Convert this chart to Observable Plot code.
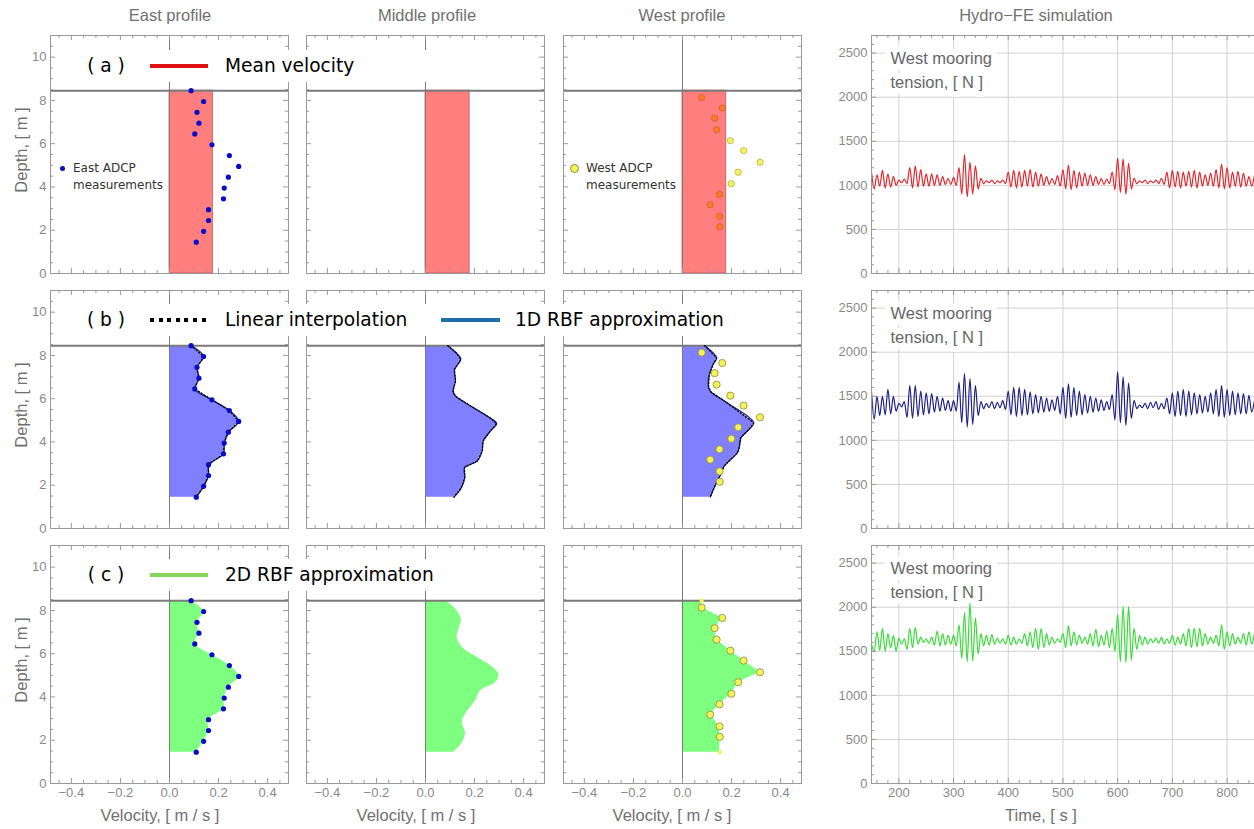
<!DOCTYPE html>
<html><head><meta charset="utf-8">
<script src="https://cdn.jsdelivr.net/npm/d3@7"></script>
<script src="https://cdn.jsdelivr.net/npm/@observablehq/plot@0.6"></script>
<style>
body{margin:0;background:#fff;}
#root{position:relative;width:1254px;height:829px;overflow:hidden;background:#fff;}
svg{max-width:none !important;}
</style></head><body><div id="root"></div>
<script>
// ---------------- DATA ----------------
const surfaceDepth = 8.45;
const seabedDepth = 0;
const meanVel = [0.177, 0.180, 0.178];            // east, middle, west

const eastDepth = [8.45, 7.95, 7.45, 6.95, 6.45, 5.95, 5.45, 4.95, 4.45, 3.95, 3.45, 2.95, 2.45, 1.95, 1.45];
const eastVel   = [0.088, 0.139, 0.112, 0.120, 0.103, 0.173, 0.244, 0.282, 0.240, 0.223, 0.220, 0.159, 0.159, 0.139, 0.109];

const westDepth = [8.13, 7.65, 7.18, 6.65, 6.14, 5.68, 5.14, 4.68, 4.15, 3.66, 3.18, 2.64, 2.16];
const westVel   = [0.078, 0.162, 0.131, 0.139, 0.195, 0.249, 0.316, 0.227, 0.199, 0.151, 0.113, 0.151, 0.152];
const westEndDepth = [8.45, 1.45];
const westEndVel   = [0.078, 0.152];

const midLinDepth = [8.45, 8.12, 7.82, 7.35, 6.82, 6.35, 6.12, 5.66, 5.12, 4.85, 4.51, 4.05, 3.59, 3.12, 2.82, 2.35, 1.89, 1.45];
const midLinVel   = [0.091, 0.125, 0.144, 0.118, 0.122, 0.112, 0.122, 0.184, 0.262, 0.290, 0.265, 0.235, 0.231, 0.211, 0.159, 0.160, 0.146, 0.116];

const westLinDepth = [8.45, 7.89, 7.59, 7.12, 6.54, 6.31, 5.82, 4.89, 4.51, 4.20, 3.74, 3.51, 2.89, 2.51, 1.89, 1.45];
const westLinVel   = [0.091, 0.139, 0.125, 0.109, 0.106, 0.116, 0.180, 0.290, 0.265, 0.238, 0.231, 0.224, 0.170, 0.156, 0.129, 0.113];

const midRbfDepth = [8.45, 8.15, 7.60, 7.14, 6.75, 6.29, 5.83, 5.44, 5.05, 4.67, 4.28, 3.82, 3.20, 2.81, 2.35, 1.88, 1.45];
const midRbfVel   = [0.078, 0.116, 0.146, 0.136, 0.129, 0.150, 0.211, 0.265, 0.299, 0.286, 0.224, 0.204, 0.163, 0.150, 0.163, 0.150, 0.116];

const velTicks = [-0.4, -0.2, 0, 0.2, 0.4];
const depthTicks = [0, 2, 4, 6, 8, 10];
const timeTicks = [200, 300, 400, 500, 600, 700, 800];
const tensionTicks = [0, 500, 1000, 1500, 2000, 2500];

const colTitles = ["East profile", "Middle profile", "West profile", "Hydro\u2212FE simulation"];

// Tension time series: alternating peaks / troughs
const tensionTime = [150,155,160,165,170,175,180,185,190,195,
 200,205,210,215,220,225,230,235,240,245,
 250,255,260,265,270,275,280,285,290,295,
 300,305,310,315,320,325,330,335,340,345,
 350,355,360,365,370,375,380,385,390,395,
 400,405,410,415,420,425,430,435,440,445,
 450,455,460,465,470,475,480,485,490,495,
 500,505,510,515,520,525,530,535,540,545,
 550,555,560,565,570,575,580,585,590,595,
 600,605,610,615,620,625,630,635,640,645,
 650,655,660,665,670,675,680,685,690,695,
 700,705,710,715,720,725,730,735,740,745,
 750,755,760,765,770,775,780,785,790,795,
 800,805,810,815,820,825,830,835,840,845,
 850];
const tensionRed = [1150,960,1120,990,1170,970,1130,980,1100,1000,
 1060,1030,1070,1020,1200,970,1220,980,1180,990,
 1130,990,1130,1000,1120,1000,1100,1010,1080,1010,
 1090,1000,1200,900,1350,870,1260,900,1220,960,
 1080,1020,1050,1030,1060,1020,1050,1030,1060,1020,
 1150,980,1170,970,1160,980,1170,990,1180,980,
 1150,990,1130,1000,1100,1010,1080,1010,1110,990,
 1180,960,1230,950,1170,970,1150,990,1140,1000,
 1120,1000,1100,1010,1080,1010,1070,1020,1150,950,
 1310,920,1300,900,1250,960,1080,1020,1050,1030,
 1060,1020,1050,1030,1060,1020,1080,1010,1150,970,
 1170,980,1160,970,1150,990,1160,980,1170,970,
 1150,990,1120,1000,1140,990,1180,970,1240,960,
 1200,970,1150,990,1160,980,1140,990,1100,990,
 1110];
const tensionBlue = [1550,1240,1500,1280,1500,1290,1580,1300,1500,1330,
 1420,1380,1440,1260,1620,1250,1620,1270,1560,1290,
 1540,1300,1530,1320,1500,1330,1480,1340,1450,1330,
 1450,1330,1660,1200,1760,1150,1700,1180,1620,1280,
 1440,1360,1420,1370,1440,1360,1430,1370,1450,1350,
 1560,1290,1600,1270,1600,1280,1580,1290,1550,1300,
 1520,1310,1500,1320,1480,1330,1460,1340,1500,1300,
 1600,1250,1640,1260,1600,1280,1560,1290,1520,1310,
 1500,1320,1480,1330,1460,1340,1440,1350,1520,1230,
 1780,1200,1720,1170,1650,1250,1450,1360,1400,1370,
 1420,1360,1430,1370,1440,1350,1420,1360,1480,1300,
 1540,1270,1560,1280,1580,1270,1560,1290,1540,1300,
 1520,1310,1500,1320,1540,1300,1580,1270,1620,1260,
 1580,1280,1560,1290,1540,1300,1530,1300,1510,1320,
 1450];
const tensionGreen = [1580,1500,1720,1510,1760,1500,1700,1540,1680,1500,
 1650,1580,1640,1520,1760,1540,1770,1580,1660,1600,
 1640,1590,1660,1570,1730,1560,1700,1570,1680,1580,
 1680,1560,1800,1420,1940,1380,2050,1390,1880,1470,
 1700,1560,1680,1570,1690,1580,1650,1590,1640,1580,
 1680,1570,1660,1580,1640,1590,1700,1560,1720,1540,
 1760,1520,1760,1540,1700,1570,1660,1590,1640,1600,
 1700,1540,1790,1560,1720,1570,1680,1590,1660,1580,
 1700,1560,1750,1550,1680,1570,1730,1540,1760,1500,
 1920,1380,2010,1370,2010,1400,1760,1520,1680,1570,
 1660,1580,1640,1600,1650,1590,1660,1580,1640,1590,
 1680,1570,1660,1580,1700,1560,1760,1540,1760,1550,
 1760,1560,1700,1580,1660,1590,1680,1560,1800,1520,
 1720,1560,1700,1580,1660,1590,1700,1570,1720,1580,
 1700];

// ---------------- LAYOUT ----------------
const FONT = "'Liberation Sans', Arial, sans-serif";
const LFONT = "'DejaVu Sans', Verdana, sans-serif";
const root = document.getElementById("root");
const PW = 238, PH = 238;
const colLeft = [50, 306, 563];
const rowTop = [35, 290, 545];
const C4L = 871, PW4 = 400, PX_PER_S = 0.547;
const TICK = "#9a9a9a", LABEL = "#8a8a8a", TITLE = "#707070";

function place(el, left, top) {
  el.style.position = "absolute"; el.style.left = left + "px"; el.style.top = top + "px";
  root.appendChild(el); return el;
}
function label(text, x, y, {size = 16.5, color = TITLE, anchor = "middle", rotate = false, font = FONT} = {}) {
  const d = document.createElement("div");
  d.textContent = text;
  Object.assign(d.style, {position: "absolute", left: x + "px", top: y + "px", fontSize: size + "px", color,
    fontFamily: font, whiteSpace: "nowrap", lineHeight: "1",
    transform: `translate(${anchor === "middle" ? "-50%" : "0"},-50%)` + (rotate ? " rotate(-90deg)" : "")});
  root.appendChild(d); return d;
}
function box(x, y, w, h, css) {
  const d = document.createElement("div");
  Object.assign(d.style, {position: "absolute", left: x + "px", top: y + "px", width: w + "px", height: h + "px"}, css || {});
  root.appendChild(d); return d;
}

function frameTicks(pw, ph, xMaj, xMin, yMaj, yMin) {
  const out = [];
  for (const [vals, len] of [[yMaj, 5], [yMin, 3]]) {
    out.push(Plot.tickY(vals, {y: d => d, insetRight: pw - len, stroke: TICK}));
    out.push(Plot.tickY(vals, {y: d => d, insetLeft: pw - len, stroke: TICK}));
  }
  for (const [vals, len] of [[xMaj, 5], [xMin, 3]]) {
    out.push(Plot.tickX(vals, {x: d => d, insetTop: ph - len, stroke: TICK}));
    out.push(Plot.tickX(vals, {x: d => d, insetBottom: ph - len, stroke: TICK}));
  }
  return out;
}

const velMinor = d3.range(-9, 10).filter(k => k % 4 !== 0).map(k => k * 0.05);
const depthMinor = d3.range(0.5, 11, 0.5).filter(v => v % 2 !== 0);
const timeMinor = d3.range(160, 881, 20).filter(v => v % 100 !== 0);
const tensionMinor = d3.range(100, 2700, 100).filter(v => v % 500 !== 0);

function profilePanel(col, row, under, over) {
  const showY = col === 0, showX = row === 2;
  const ml = 40, mr = 10, mt = 10, mb = 30;
  const marks = [
    ...under,
    Plot.ruleX([0], {stroke: "#7a7a7a", strokeWidth: 1}),
    Plot.ruleY([surfaceDepth], {stroke: "#7a7a7a", strokeWidth: 2}),
    ...over,
    ...frameTicks(PW, PH, velTicks, velMinor, depthTicks, depthMinor),
    Plot.frame({stroke: "#9a9a9a"})
  ];
  if (showY) marks.push(Plot.axisY({ticks: depthTicks, tickSize: 0, tickPadding: 4, label: null, color: LABEL, fontSize: 13}));
  if (showX) marks.push(Plot.axisX({ticks: velTicks, tickSize: 0, tickPadding: 4, label: null, color: LABEL, fontSize: 13, tickFormat: d3.format(".1f")}));
  const svg = Plot.plot({
    width: PW + ml + mr, height: PH + mt + mb,
    marginLeft: ml, marginRight: mr, marginTop: mt, marginBottom: mb,
    x: {domain: [-0.485, 0.485], axis: showX ? undefined : null},
    y: {domain: [0, 11], axis: showY ? undefined : null},
    style: {background: "transparent", overflow: "visible", fontFamily: FONT, fontSize: "13px"},
    marks
  });
  place(svg, colLeft[col] - ml, rowTop[row] - mt);
}

const pts = (ds, vs) => ds.map((d, i) => ({d, v: vs[i]}));
const eastPts = pts(eastDepth, eastVel);
const westPts = pts(westDepth, westVel);
const westEnds = pts(westEndDepth, westEndVel);
const midLin = pts(midLinDepth, midLinVel);
const westLin = pts(westLinDepth, westLinVel);
const midRbf = pts(midRbfDepth, midRbfVel);
const westFull = [westEnds[0], ...westPts, westEnds[1]];

const eastDots = (r = 2.6) => Plot.dot(eastPts, {x: "v", y: "d", r, fill: "#0a0ac8", stroke: "none"});
const westDots = () => Plot.dot(westPts, {x: "v", y: "d", r: 3.6, fill: "#f2f25a", stroke: "#8c8c3c", strokeWidth: 0.8});
const bar = (i) => Plot.rectX([{v: meanVel[i], d0: seabedDepth, d1: surfaceDepth}],
  {x: "v", y1: "d0", y2: "d1", fill: "red", fillOpacity: 0.5, stroke: "#c44", strokeOpacity: 0.7});
const area = (data, fill, curve = "linear") => Plot.areaX(data, {x: "v", y: "d", fill, fillOpacity: 0.5, curve});
const bLines = (data) => [
  Plot.line(data, {x: "v", y: "d", stroke: "#23308f", strokeWidth: 1.3, curve: "catmull-rom"}),
  Plot.line(data, {x: "v", y: "d", stroke: "#000", strokeWidth: 1.3, strokeDasharray: "1.3,2"})
];

// Row a
profilePanel(0, 0, [bar(0)], [eastDots()]);
profilePanel(1, 0, [bar(1)], []);
profilePanel(2, 0, [Plot.dot(westPts, {x: "v", y: "d", r: 3.2, fill: "#f2f25a", stroke: "#a0a050", strokeWidth: 0.6}), bar(2)], []);
// Row b
profilePanel(0, 1, [area(eastPts, "blue")], [...bLines(eastPts), eastDots()]);
profilePanel(1, 1, [area(midLin, "blue")], [...bLines(midLin)]);
profilePanel(2, 1, [area(westLin, "blue")], [...bLines(westLin), westDots()]);
// Row c
profilePanel(0, 2, [area(eastPts, "lime", "catmull-rom")], [eastDots()]);
profilePanel(1, 2, [area(midRbf, "lime", "catmull-rom")], []);
profilePanel(2, 2, [area(westFull, "lime")], [
  Plot.dot(westEnds, {x: "v", y: "d", r: 2.2, fill: "#f2f25a"}), westDots()]);

// Column 4: tension
const tensionTable = tensionTime.map((t, i) => ({t, red: tensionRed[i], blue: tensionBlue[i], green: tensionGreen[i]}));
function tensionPanel(row, key, color) {
  const ml = 50, mr = 0, mt = 10, mb = 30;
  const marks = [
    Plot.ruleX(timeTicks, {stroke: "#d2d2d2"}),
    Plot.ruleY(tensionTicks, {stroke: "#d2d2d2"}),
    Plot.text(["West mooring\ntension, [ N ]"], {frameAnchor: "top-left", dx: 19, dy: 12, fontSize: 16.5,
      fill: "#666", stroke: "white", strokeWidth: 12, lineHeight: 1.42, fontFamily: FONT}),
    Plot.line(tensionTable, {x: "t", y: key, stroke: color, strokeWidth: 1.2, curve: "monotone-x"}),
    ...frameTicks(PW4, PH, timeTicks, timeMinor, tensionTicks, tensionMinor),
    Plot.frame({stroke: "#9a9a9a"}),
    Plot.axisY({ticks: tensionTicks, tickSize: 0, tickPadding: 4, label: null, color: LABEL, fontSize: 13, tickFormat: d3.format("d")})
  ];
  if (row === 2) marks.push(Plot.axisX({ticks: timeTicks, tickSize: 0, tickPadding: 4, label: null, color: LABEL, fontSize: 13, tickFormat: d3.format("d")}));
  const svg = Plot.plot({
    width: PW4 + ml + mr, height: PH + mt + mb,
    marginLeft: ml, marginRight: mr, marginTop: mt, marginBottom: mb,
    x: {domain: [150, 150 + PW4 / PX_PER_S], axis: row === 2 ? undefined : null},
    y: {domain: [0, 2700]},
    style: {background: "transparent", overflow: "visible", fontFamily: FONT, fontSize: "13px"},
    marks
  });
  place(svg, C4L - ml, rowTop[row] - mt);
}
tensionPanel(0, "red", "#e3262e");
tensionPanel(1, "blue", "#1f1f86");
tensionPanel(2, "green", "#38dc38");

// Titles & axis labels
[170, 427, 682, 1036].forEach((x, i) => label(colTitles[i], x, 15));
rowTop.forEach(t => label("Depth, [ m ]", 21, t + PH / 2 - 4, {rotate: true}));
[160, 416, 672].forEach(x => label("Velocity, [ m / s ]", x, 815));
label("Time, [ s ]", 1041, 815);

// Legends (white boxes over the plots)
function legendLine(x1, x2, y, css) { box(x1, y - 2, x2 - x1, 4, css); }
const LS = 18.6;
box(58, 50, 440, 32, {background: "#fff"});
label("( a )", 106, 66, {size: LS, color: "#000", font: LFONT});
legendLine(150, 208, 66, {background: "#e01010"});
label("Mean velocity", 225, 66, {size: LS, color: "#000", font: LFONT, anchor: "start"});

box(58, 304, 692, 32, {background: "#fff"});
label("( b )", 106, 320, {size: LS, color: "#000", font: LFONT});
legendLine(150, 208, 320, {background: "repeating-linear-gradient(90deg,#000 0 4px,transparent 4px 8.6px)"});
label("Linear interpolation", 225, 320, {size: LS, color: "#000", font: LFONT, anchor: "start"});
legendLine(441, 500, 320, {background: "#1f6faa"});
label("1D RBF approximation", 515, 320, {size: LS, color: "#000", font: LFONT, anchor: "start"});

box(58, 559, 392, 32, {background: "#fff"});
label("( c )", 106, 575, {size: LS, color: "#000", font: LFONT});
legendLine(150, 208, 575, {background: "#86d45a"});
label("2D RBF approximation", 225, 575, {size: LS, color: "#000", font: LFONT, anchor: "start"});

// In-panel measurement labels
box(60, 166, 5, 5, {background: "#0a0ac8", borderRadius: "50%"});
label("East ADCP", 73, 168, {size: 12, color: "#333", font: LFONT, anchor: "start"});
label("measurements", 73, 185, {size: 12, color: "#333", font: LFONT, anchor: "start"});
box(570, 164, 7, 7, {background: "#f2f25a", border: "1px solid #8c8c3c", borderRadius: "50%"});
label("West ADCP", 586, 168, {size: 12, color: "#333", font: LFONT, anchor: "start"});
label("measurements", 586, 185, {size: 12, color: "#333", font: LFONT, anchor: "start"});
</script></body></html>
